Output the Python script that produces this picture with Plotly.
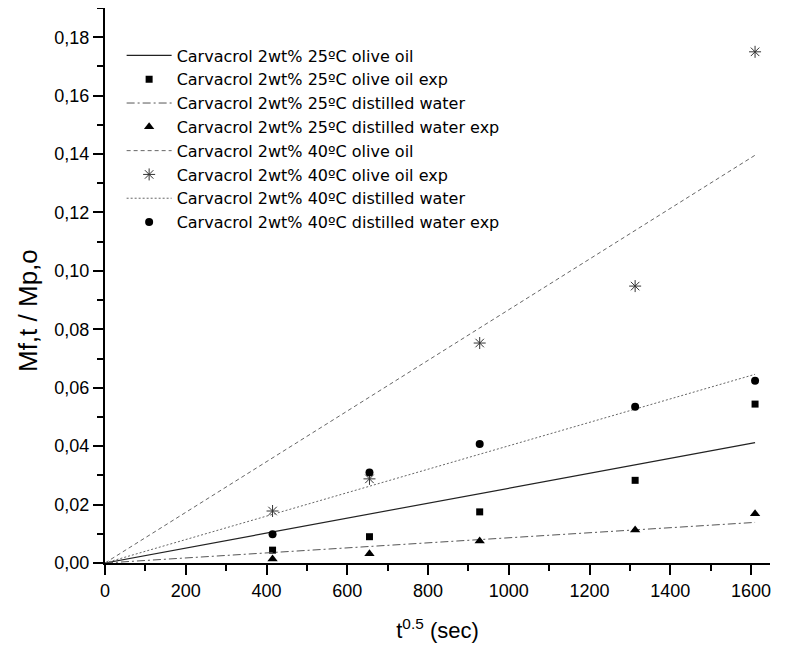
import plotly.graph_objects as go

# Data
t_exp = [415, 655, 928, 1313, 1610]
oil25_exp = [0.0044, 0.0090, 0.0175, 0.0283, 0.0544]
water25_exp = [0.0014, 0.0032, 0.0075, 0.0113, 0.0169]
oil40_exp = [0.0178, 0.0288, 0.0753, 0.0948, 0.1750]
water40_exp = [0.0098, 0.0310, 0.0407, 0.0535, 0.0624]

t_model = [0, 1610]
oil25_model = [0.0, 0.0412]
water25_model = [0.0, 0.0139]
oil40_model = [0.0, 0.1396]
water40_model = [0.0, 0.0646]

names = [
    "Carvacrol 2wt% 25ºC olive oil",
    "Carvacrol 2wt% 25ºC olive oil exp",
    "Carvacrol 2wt% 25ºC distilled water",
    "Carvacrol 2wt% 25ºC distilled water exp",
    "Carvacrol 2wt% 40ºC olive oil",
    "Carvacrol 2wt% 40ºC olive oil exp",
    "Carvacrol 2wt% 40ºC distilled water",
    "Carvacrol 2wt% 40ºC distilled water exp",
]

x_title = "t<sup>0.5</sup> (sec)"
y_title = "Mf,t / Mp,o"

FONT = "Liberation Sans, Arial"

fig = go.Figure()
fig.add_trace(go.Scatter(x=t_model, y=oil25_model, mode="lines", name=names[0],
                         line=dict(color="#222", width=1.2, dash="solid")))
fig.add_trace(go.Scatter(x=t_exp, y=oil25_exp, mode="markers", name=names[1],
                         marker=dict(symbol="square", size=7, color="black")))
fig.add_trace(go.Scatter(x=t_model, y=water25_model, mode="lines", name=names[2],
                         line=dict(color="#555", width=1, dash="8px,3px,2px,3px")))
fig.add_trace(go.Scatter(x=t_exp, y=water25_exp, mode="markers", name=names[3],
                         marker=dict(symbol="triangle-up", size=9, color="black")))
fig.add_trace(go.Scatter(x=t_model, y=oil40_model, mode="lines", name=names[4],
                         line=dict(color="#666", width=1, dash="4px,3px")))
fig.add_trace(go.Scatter(x=t_exp, y=oil40_exp, mode="markers", name=names[5],
                         marker=dict(symbol="asterisk-open", size=10, color="#333",
                                     line=dict(color="#333", width=1))))
fig.add_trace(go.Scatter(x=t_model, y=water40_model, mode="lines", name=names[6],
                         line=dict(color="#666", width=1, dash="2px,2px")))
fig.add_trace(go.Scatter(x=t_exp, y=water40_exp, mode="markers", name=names[7],
                         marker=dict(symbol="circle", size=8, color="black")))

axis_common = dict(
    showline=True, linecolor="black", linewidth=2, showgrid=False, zeroline=False,
    ticks="outside", ticklen=10, tickwidth=1.5, tickcolor="black",
    tickfont=dict(family=FONT, size=18, color="black"),
    mirror=False,
)

fig.update_layout(
    width=785, height=655,
    margin=dict(l=97, r=23, t=0, b=100),
    paper_bgcolor="white", plot_bgcolor="white",
    separators=",.",
    font=dict(family=FONT, color="black"),
    showlegend=True,
    legend=dict(x=0.025, y=0.945, xanchor="left", yanchor="top",
                itemwidth=45,
                font=dict(family="DejaVu Sans", size=16, color="black"),
                bgcolor="rgba(0,0,0,0)", borderwidth=0),
    xaxis=dict(range=[0, 1647], tickmode="linear", tick0=0, dtick=200,
               minor=dict(ticks="outside", ticklen=6, dtick=100, tickcolor="black", tickwidth=1.5),
               title=dict(text=x_title, font=dict(family=FONT, size=22), standoff=23),
               **axis_common),
    yaxis=dict(range=[0, 0.19], tickmode="linear", tick0=0, dtick=0.02, tickformat=".2f",
               minor=dict(ticks="outside", ticklen=6, dtick=0.01, tickcolor="black", tickwidth=1.5),
               **axis_common),
    annotations=[dict(text=y_title, xref="paper", yref="paper", x=0, y=0.454,
                      xshift=-77, xanchor="center", yanchor="middle", textangle=-90,
                      showarrow=False, font=dict(family=FONT, size=26, color="black"))],
)

fig.write_html("out.html")
